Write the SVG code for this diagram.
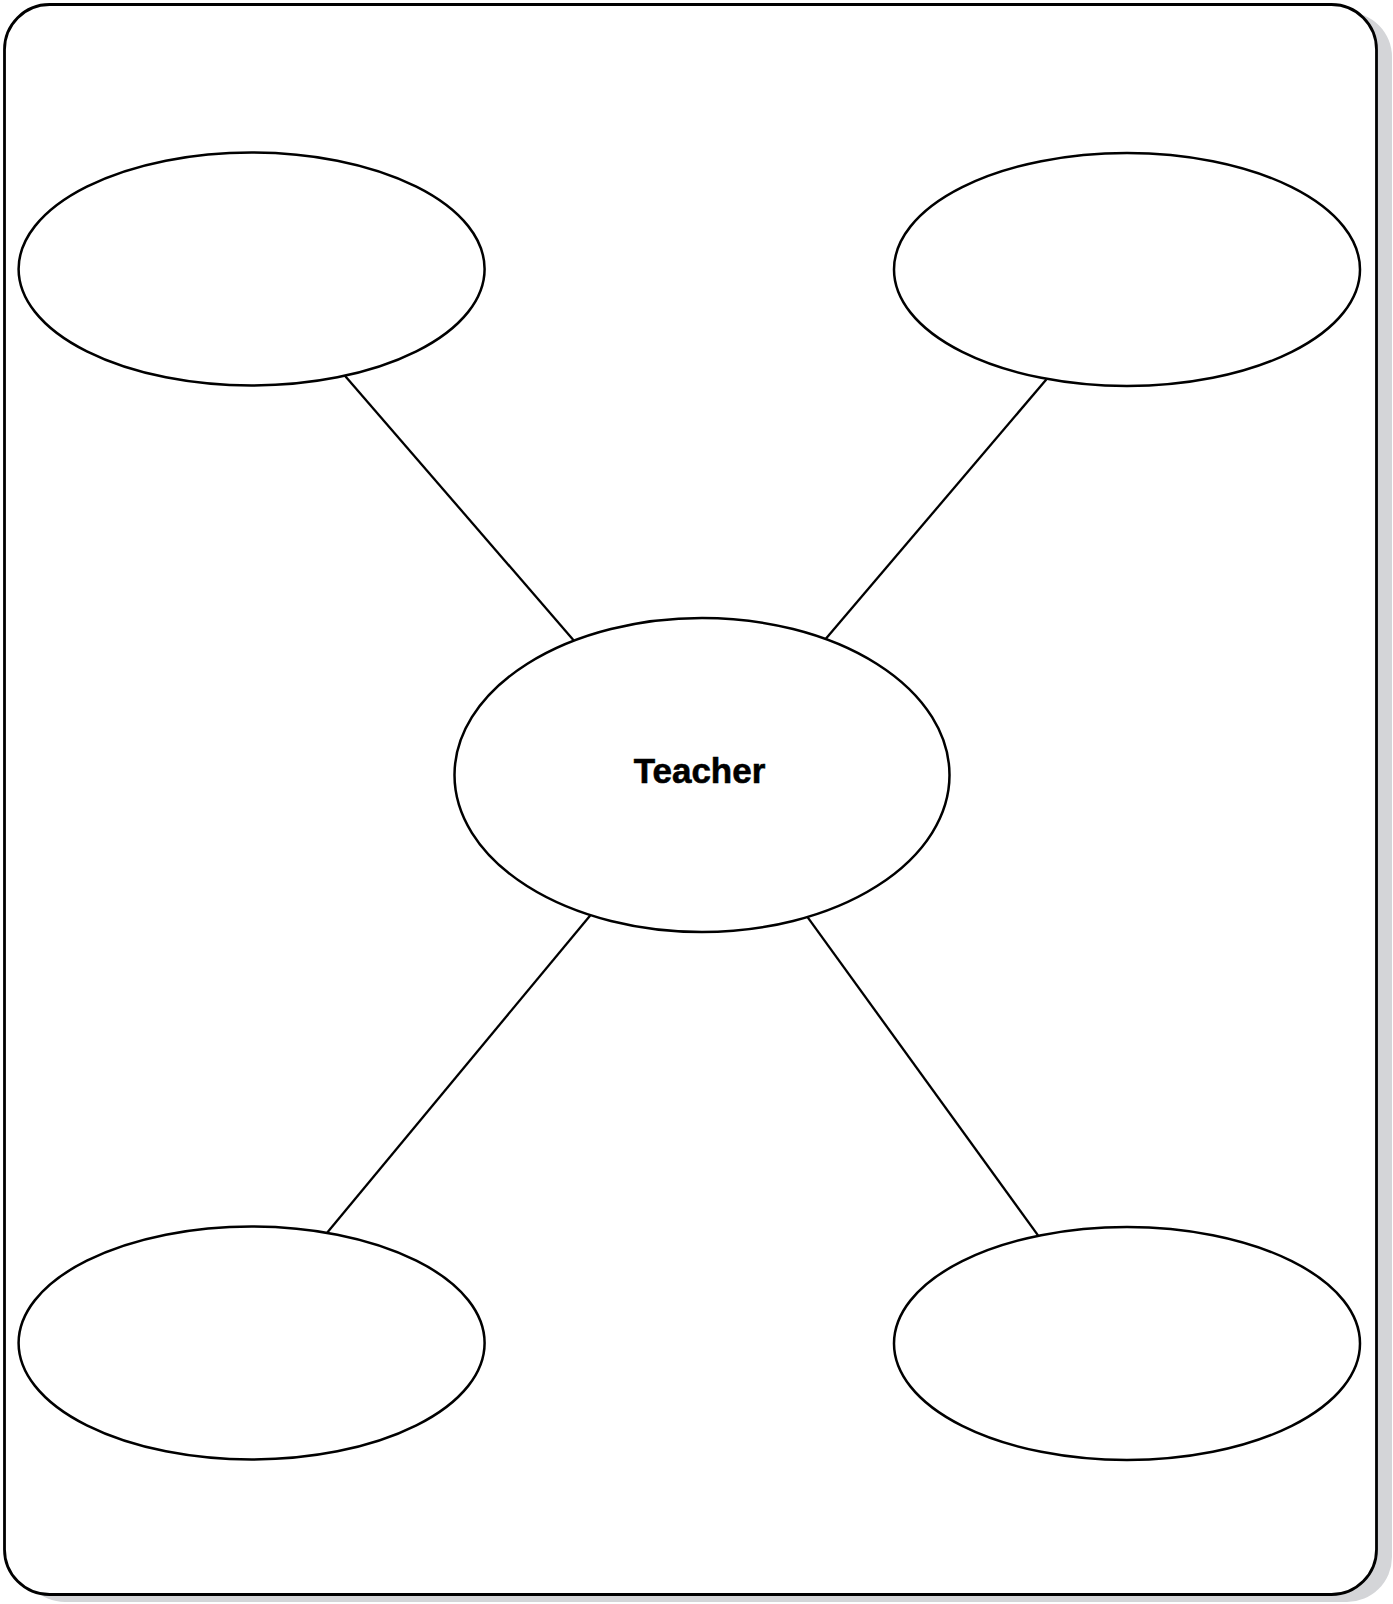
<svg xmlns="http://www.w3.org/2000/svg" width="1393" height="1604" viewBox="0 0 1393 1604">
<style>
.frame{fill:#ffffff;stroke:#000000;stroke-width:2.8}
.shadow{fill:#d4d5d8;stroke:none}
.node{fill:#ffffff;stroke:#000000;stroke-width:2.5}
.conn{stroke:#000000;stroke-width:2.3;fill:none}
.label{font-family:"Liberation Sans",Arial,sans-serif;font-weight:bold;font-size:35px;fill:#000000;stroke:#000000;stroke-width:0.6}
</style>
<rect class="shadow" x="20" y="12" width="1372" height="1590" rx="45" ry="45"/>
<rect class="frame" x="4.5" y="4.5" width="1372" height="1590" rx="45" ry="45"/>
<g id="connectors">
<line class="conn" x1="344.7" y1="375.4" x2="573.8" y2="640.5"/>
<line class="conn" x1="1046.3" y1="379.5" x2="825.4" y2="639.3"/>
<line class="conn" x1="590.2" y1="915.4" x2="327.3" y2="1232.5"/>
<line class="conn" x1="807" y1="916.4" x2="1038.2" y2="1235.6"/>
</g>
<g id="node-top-left"><ellipse class="node" cx="251.6" cy="269" rx="233" ry="116.5"/></g>
<g id="node-top-right"><ellipse class="node" cx="1127" cy="269.5" rx="233" ry="116.5"/></g>
<g id="node-center"><ellipse class="node" cx="702" cy="775" rx="247.5" ry="157"/><text class="label" x="699.5" y="783" text-anchor="middle">Teacher</text></g>
<g id="node-bottom-left"><ellipse class="node" cx="251.6" cy="1343" rx="233" ry="116.5"/></g>
<g id="node-bottom-right"><ellipse class="node" cx="1127" cy="1343.5" rx="233" ry="116.5"/></g>
</svg>
